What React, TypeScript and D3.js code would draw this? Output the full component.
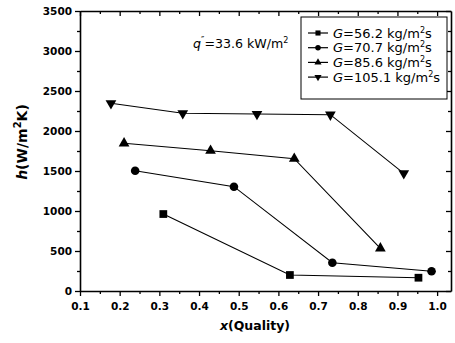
import * as d3 from 'd3';
import { useEffect, useRef } from 'react';

// quality x and heat transfer coefficient h
const xG56 = [0.31, 0.629, 0.953];
const hG56 = [962, 200, 166];
const xG70 = [0.239, 0.488, 0.736, 0.986];
const hG70 = [1504, 1304, 354, 246];
const xG85 = [0.211, 0.429, 0.64, 0.857];
const hG85 = [1846, 1754, 1654, 534];
const xG105 = [0.178, 0.359, 0.546, 0.731, 0.916];
const hG105 = [2346, 2221, 2212, 2204, 1471];

const seriesNames = ['56.2', '70.7', '85.6', '105.1'];
const xTicks = [0.1, 0.2, 0.3, 0.4, 0.5, 0.6, 0.7, 0.8, 0.9, 1.0];
const yTicks = [0, 500, 1000, 1500, 2000, 2500, 3000, 3500];

export default function App() {
    const ref = useRef<SVGSVGElement | null>(null);

    useEffect(() => {
        const svg = d3.select(ref.current);
        svg.selectAll('*').remove();

        const width = 455;
        const height = 343;
        const margin = { top: 11, right: 4, bottom: 52, left: 80 };
        const font = 'DejaVu Sans, sans-serif';

        svg.attr('width', width).attr('height', height);
        svg.append('rect').attr('width', width).attr('height', height).attr('fill', '#fff');

        const x = d3.scaleLinear().domain([0.1, 1.035]).range([margin.left, width - margin.right]);
        const y = d3.scaleLinear().domain([0, 3500]).range([height - margin.bottom, margin.top]);

        const xMinor = d3.range(0.15, 1.03, 0.1);
        const yMinor = d3.range(250, 3500, 500);
        const blank = () => '';

        // bottom axis (ticks out)
        const bottom = svg.append('g').attr('transform', `translate(0,${y(0)})`);
        bottom.call(d3.axisBottom(x).tickValues(xTicks).tickSize(5).tickSizeOuter(0).tickFormat(d3.format('.1f')));
        const bMinor = svg.append('g').attr('transform', `translate(0,${y(0)})`);
        bMinor.call(d3.axisBottom(x).tickValues(xMinor).tickSize(3).tickSizeOuter(0).tickFormat(blank));
        bMinor.select('.domain').remove();

        // left axis (ticks out)
        const left = svg.append('g').attr('transform', `translate(${x(0.1)},0)`);
        left.call(d3.axisLeft(y).tickValues(yTicks).tickSize(5).tickSizeOuter(0).tickFormat(d3.format('d')));
        const lMinor = svg.append('g').attr('transform', `translate(${x(0.1)},0)`);
        lMinor.call(d3.axisLeft(y).tickValues(yMinor).tickSize(3).tickSizeOuter(0).tickFormat(blank));
        lMinor.select('.domain').remove();

        // top axis (ticks in)
        const top = svg.append('g').attr('transform', `translate(0,${y(3500)})`);
        top.call(d3.axisTop(x).tickValues(xTicks).tickSize(-5).tickSizeOuter(0).tickFormat(blank));
        const tMinor = svg.append('g').attr('transform', `translate(0,${y(3500)})`);
        tMinor.call(d3.axisTop(x).tickValues(xMinor).tickSize(-3).tickSizeOuter(0).tickFormat(blank));
        tMinor.select('.domain').remove();

        // right axis (ticks in)
        const right = svg.append('g').attr('transform', `translate(${x(1.035)},0)`);
        right.call(d3.axisRight(y).tickValues(yTicks).tickSize(-5).tickSizeOuter(0).tickFormat(blank));
        const rMinor = svg.append('g').attr('transform', `translate(${x(1.035)},0)`);
        rMinor.call(d3.axisRight(y).tickValues(yMinor).tickSize(-3).tickSizeOuter(0).tickFormat(blank));
        rMinor.select('.domain').remove();

        svg.selectAll('.domain').attr('stroke', '#000').attr('stroke-width', 1.6);
        svg.selectAll('.tick line').attr('stroke', '#000').attr('stroke-width', 1.3);
        svg.selectAll('.tick text')
            .attr('fill', '#000')
            .style('font-family', font)
            .style('font-size', '10.5px')
            .style('font-weight', 'bold');
        bottom.selectAll('.tick text').attr('dy', null).attr('y', 19);
        left.selectAll('.tick text').attr('x', -8);

        // series
        const series = [
            { name: seriesNames[0], xs: xG56, hs: hG56, sym: d3.symbolSquare, size: 60, rot: 0, lsize: 26 },
            { name: seriesNames[1], xs: xG70, hs: hG70, sym: d3.symbolCircle, size: 58, rot: 0, lsize: 24 },
            { name: seriesNames[2], xs: xG85, hs: hG85, sym: d3.symbolTriangle, size: 50, rot: 0, lsize: 22 },
            { name: seriesNames[3], xs: xG105, hs: hG105, sym: d3.symbolTriangle, size: 50, rot: 180, lsize: 22 },
        ];

        const line = d3.line<[number, number]>().x(d => x(d[0])).y(d => y(d[1]));

        series.forEach(s => {
            const pts = s.xs.map((v, i) => [v, s.hs[i]] as [number, number]);
            svg.append('path')
                .attr('d', line(pts))
                .attr('fill', 'none')
                .attr('stroke', '#000')
                .attr('stroke-width', 1.1);
            svg.selectAll(null)
                .data(pts)
                .enter()
                .append('path')
                .attr('d', d3.symbol().type(s.sym).size(s.size)())
                .attr('transform', d => `translate(${x(d[0])},${y(d[1])}) rotate(${s.rot})`)
                .attr('fill', '#000');
        });

        // annotation
        const ann = svg.append('text')
            .attr('x', 193)
            .attr('y', 48)
            .style('font-family', font)
            .style('font-size', '12.6px')
            .attr('fill', '#000');
        ann.append('tspan').style('font-style', 'italic').text('q');
        ann.append('tspan').attr('dy', -5).style('font-size', '9px').text('″');
        ann.append('tspan').attr('dy', 5).text('=33.6 kW/m');
        ann.append('tspan').attr('dy', -5).style('font-size', '8px').text('2');

        // legend
        const lg = svg.append('g');
        lg.append('rect')
            .attr('x', 301).attr('y', 17).attr('width', 146).attr('height', 82)
            .attr('fill', '#fff').attr('stroke', '#000').attr('stroke-width', 1);
        series.forEach((s, i) => {
            const cy = 33 + i * 14.7;
            lg.append('line')
                .attr('x1', 308).attr('x2', 328).attr('y1', cy).attr('y2', cy)
                .attr('stroke', '#000').attr('stroke-width', 1.2);
            lg.append('path')
                .attr('d', d3.symbol().type(s.sym).size(s.lsize)())
                .attr('transform', `translate(318,${cy}) rotate(${s.rot})`)
                .attr('fill', '#000');
            const t = lg.append('text')
                .attr('x', 333).attr('y', cy + 4.5)
                .style('font-family', font)
                .style('font-size', '13px')
                .attr('fill', '#000');
            t.append('tspan').style('font-style', 'italic').text('G');
            t.append('tspan').text(`=${s.name} kg/m`);
            t.append('tspan').attr('dy', -5).style('font-size', '8px').text('2');
            t.append('tspan').attr('dy', 5).text('s');
        });

        // axis titles
        const xt = svg.append('text')
            .attr('x', 255).attr('y', 330)
            .attr('text-anchor', 'middle')
            .style('font-family', font).style('font-size', '12.5px').style('font-weight', 'bold');
        xt.append('tspan').style('font-style', 'italic').text('x');
        xt.append('tspan').text('(Quality)');

        const yt = svg.append('text')
            .attr('transform', 'translate(27,142) rotate(-90)')
            .attr('text-anchor', 'middle')
            .style('font-family', font).style('font-size', '14px').style('font-weight', 'bold');
        yt.append('tspan').style('font-style', 'italic').text('h');
        yt.append('tspan').text('(W/m');
        yt.append('tspan').attr('dy', -6).style('font-size', '10px').text('2');
        yt.append('tspan').attr('dy', 6).text('K)');
    }, []);

    return <svg ref={ref} style={{ position: 'absolute', left: 0, top: 0 }}></svg>;
}
